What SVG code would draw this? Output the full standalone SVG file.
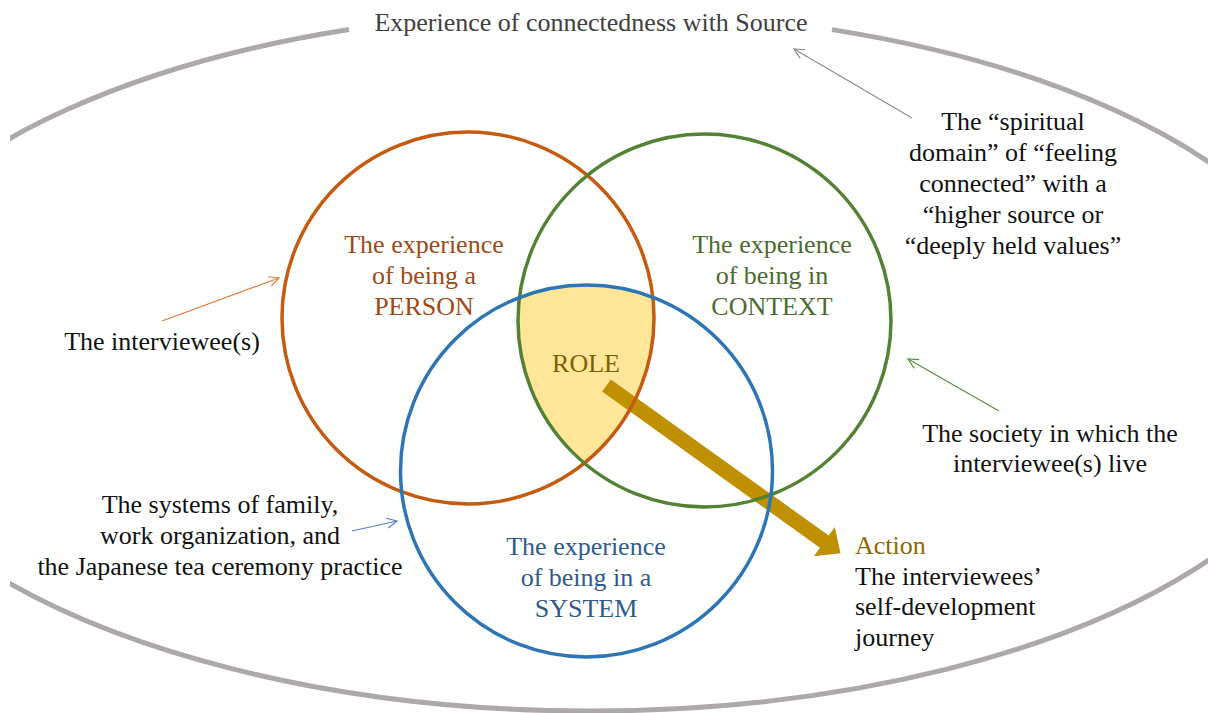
<svg xmlns="http://www.w3.org/2000/svg" width="1208" height="713" viewBox="0 0 1208 713">
  <style>
    text { font-family: "Liberation Serif", "Times New Roman", serif; font-size: 26px; }
    .c { text-anchor: middle; }
    .dark { fill: #111111; }
    .ring { fill: none; stroke-width: 3.5; }
    .thin { fill: none; stroke-width: 1.2; }
  </style>
  <defs>
    <clipPath id="frame"><rect x="10" y="0" width="1198" height="713"/></clipPath>
    <clipPath id="clipPerson"><circle cx="468" cy="318" r="186"/></clipPath>
    <clipPath id="clipContext"><circle cx="704.5" cy="320.5" r="186.5"/></clipPath>
    <marker id="headGray" markerUnits="userSpaceOnUse" markerWidth="14" markerHeight="14" refX="12" refY="7" orient="auto">
      <path d="M2,2 L12,7 L2,12" fill="none" stroke="#8C8C8C" stroke-width="1.2"/>
    </marker>
    <marker id="headOrange" markerUnits="userSpaceOnUse" markerWidth="14" markerHeight="14" refX="12" refY="7" orient="auto">
      <path d="M2,2 L12,7 L2,12" fill="none" stroke="#E07B3C" stroke-width="1.2"/>
    </marker>
    <marker id="headBlue" markerUnits="userSpaceOnUse" markerWidth="14" markerHeight="14" refX="12" refY="7" orient="auto">
      <path d="M2,2 L12,7 L2,12" fill="none" stroke="#5A7EC0" stroke-width="1.2"/>
    </marker>
    <marker id="headGreen" markerUnits="userSpaceOnUse" markerWidth="14" markerHeight="14" refX="12" refY="7" orient="auto">
      <path d="M2,2 L12,7 L2,12" fill="none" stroke="#5E8E3E" stroke-width="1.2"/>
    </marker>
  </defs>

  <rect width="1208" height="713" fill="#FFFFFF"/>

  <!-- outer boundary: connectedness with Source -->
  <g id="source">
    <path d="M832,29.6 A752,350 0 1 1 349,29.5" fill="none" stroke="#AEA9A9" stroke-width="5" clip-path="url(#frame)"/>
    <text class="c" x="591" y="31" fill="#404040">Experience of connectedness with Source</text>
  </g>

  <!-- ROLE: area shared by all three circles -->
  <g id="role">
    <g clip-path="url(#clipPerson)">
      <g clip-path="url(#clipContext)">
        <circle cx="586.5" cy="471" r="186" fill="#FFE699"/>
      </g>
    </g>
    <text class="c" x="586" y="372" fill="#7F6000">ROLE</text>
  </g>

  <g id="connectors">
    <!-- role leads to action -->
    <polygon points="602.1,391.6 610.9,379.4 828.7,535.5 834.8,527.0 840.5,553.3 813.8,556.2 819.9,547.7" fill="#BF9000"/>
    <line x1="912" y1="118" x2="794" y2="49" class="thin" stroke="#8C8C8C" marker-end="url(#headGray)"/>
    <line x1="162" y1="321" x2="279" y2="278" class="thin" stroke="#E07B3C" marker-end="url(#headOrange)"/>
    <line x1="352" y1="531" x2="397" y2="521" class="thin" stroke="#5A7EC0" marker-end="url(#headBlue)"/>
    <line x1="999" y1="411" x2="908" y2="359" class="thin" stroke="#5E8E3E" marker-end="url(#headGreen)"/>
  </g>

  <g id="person">
    <circle cx="468" cy="318" r="186" class="ring" stroke="#C55A11"/>
    <text class="c" fill="#9E4A17"><tspan x="424" y="253">The experience</tspan><tspan x="424" y="284">of being a</tspan><tspan x="424" y="315">PERSON</tspan></text>
  </g>

  <g id="context">
    <circle cx="704.5" cy="320.5" r="186.5" class="ring" stroke="#548235"/>
    <text class="c" fill="#4B6B2F"><tspan x="772" y="253">The experience</tspan><tspan x="772" y="284">of being in</tspan><tspan x="772" y="315">CONTEXT</tspan></text>
  </g>

  <g id="system">
    <circle cx="586.5" cy="471" r="186" class="ring" stroke="#2E75B6"/>
    <text class="c" fill="#2F5B8C"><tspan x="586" y="555">The experience</tspan><tspan x="586" y="586">of being in a</tspan><tspan x="586" y="617">SYSTEM</tspan></text>
  </g>

  <g id="spiritual">
    <text class="c dark"><tspan x="1013" y="130">The “spiritual</tspan><tspan x="1013" y="161">domain” of “feeling</tspan><tspan x="1013" y="192">connected” with a</tspan><tspan x="1013" y="223">“higher source or</tspan><tspan x="1013" y="254">“deeply held values”</tspan></text>
  </g>

  <g id="interviewee">
    <text class="c dark" x="162" y="350">The interviewee(s)</text>
  </g>

  <g id="systems-note">
    <text class="c dark"><tspan x="220" y="513">The systems of family,</tspan><tspan x="220" y="544">work organization, and</tspan><tspan x="220" y="575">the Japanese tea ceremony practice</tspan></text>
  </g>

  <g id="society">
    <text class="c dark"><tspan x="1050" y="442">The society in which the</tspan><tspan x="1050" y="472">interviewee(s) live</tspan></text>
  </g>

  <g id="action">
    <text x="855" y="554" fill="#8C6A00">Action</text>
    <text class="dark"><tspan x="855" y="585">The interviewees’</tspan><tspan x="855" y="615">self-development</tspan><tspan x="855" y="646">journey</tspan></text>
  </g>
</svg>
